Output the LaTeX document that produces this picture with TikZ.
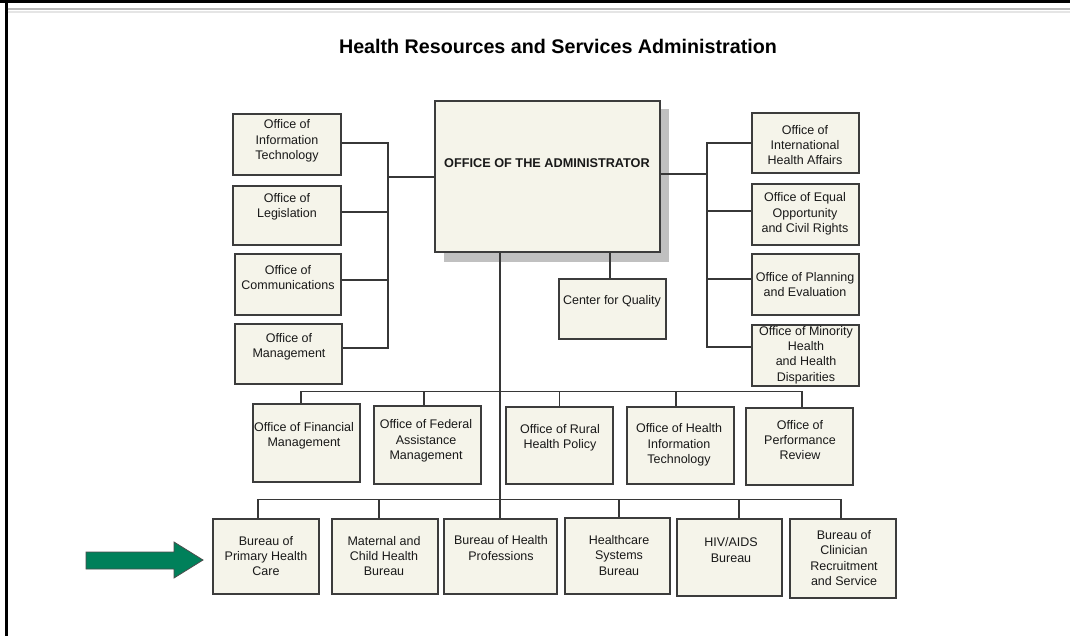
\documentclass[tikz,border=0pt]{standalone}
\usepackage{fontspec}
\setmainfont{Liberation Sans}
\definecolor{boxfill}{RGB}{245,244,234}
\definecolor{boxline}{RGB}{60,60,60}
\definecolor{conn}{RGB}{55,55,55}
\definecolor{shadowc}{RGB}{192,192,192}
\definecolor{arrowgreen}{RGB}{0,128,90}
\definecolor{txt}{RGB}{25,25,25}
\tikzset{
  unitbox/.style={draw=boxline, fill=boxfill, line width=1.2pt, rectangle, inner sep=0pt},
  label text/.style={align=center, inner sep=0pt, text=txt, font=\fontsize{12.5}{15.3}\selectfont},
  connector/.style={draw=conn, line width=1.4pt},
}
\begin{document}
\begin{tikzpicture}[x=1pt, y=-1pt]
\useasboundingbox (0,0) rectangle (1070,636);
\fill[white] (0,0) rectangle (1070,636);
% frame
\fill[black] (0,0) rectangle (1070,3);
\fill[black] (4.5,0) rectangle (7.5,636);
\draw[gray!55, line width=2pt] (7.5,9.5) -- (1070,9.5);
\draw[gray!20, line width=1.5pt] (7.5,12) -- (1070,12);

% title
\node[inner sep=0pt, font=\bfseries\fontsize{19.7}{23}\selectfont] (title) at (558,46) {Health Resources and Services Administration};

% administrator with shadow
\fill[shadowc] (444,109) rectangle (669,262);
\node[unitbox, minimum width=225pt, minimum height=151pt] (adm) at (547.5,176.5) {};
\node[inner sep=0pt, text=txt, font=\bfseries\fontsize{12.7}{15}\selectfont] (admT) at (547,163) {OFFICE OF THE ADMINISTRATOR};

% left column
\node[unitbox, minimum width=108pt, minimum height=61pt] (it) at (287,144.5) {};
\node[label text] (itT) at (287,141) {Office of\\Information\\Technology};
\node[unitbox, minimum width=108pt, minimum height=59pt] (leg) at (287,215.5) {};
\node[label text] (legT) at (287,207) {Office of\\Legislation};
\node[unitbox, minimum width=106pt, minimum height=61pt] (com) at (288,284.5) {};
\node[label text] (comT) at (288,277.5) {Office of\\Communications};
\node[unitbox, minimum width=107pt, minimum height=60pt] (mgt) at (288.5,354) {};
\node[label text] (mgtT) at (289,346.5) {Office of\\Management};

% right column
\node[unitbox, minimum width=107pt, minimum height=60pt] (iha) at (805.5,143) {};
\node[label text] (ihaT) at (805,145) {Office of\\International\\Health Affairs};
\node[unitbox, minimum width=107pt, minimum height=61pt] (eeo) at (805.5,214.5) {};
\node[label text] (eeoT) at (805,214) {Office of Equal\\Opportunity\\and Civil Rights};
\node[unitbox, minimum width=107pt, minimum height=61pt] (ope) at (805.5,284.5) {};
\node[label text] (opeT) at (805,284.5) {Office of Planning\\and Evaluation};
\node[unitbox, minimum width=107pt, minimum height=61pt] (omh) at (805.5,355.5) {};
\node[label text] (omhT) at (806,355) {Office of Minority\\Health\\and Health\\Disparities};

% center for quality
\node[unitbox, minimum width=107pt, minimum height=60pt] (cq) at (612.5,309) {};
\node[label text] (cqT) at (612,301) {Center for Quality};

% middle row
\node[unitbox, minimum width=107pt, minimum height=78pt] (fin) at (306.5,443) {};
\node[label text] (finT) at (304,436) {Office of Financial\\Management};
\node[unitbox, minimum width=107pt, minimum height=78pt] (fed) at (427.5,445) {};
\node[label text] (fedT) at (426,441) {Office of Federal\\Assistance\\Management};
\node[unitbox, minimum width=107pt, minimum height=77pt] (rur) at (559.5,445.5) {};
\node[label text] (rurT) at (560,438) {Office of Rural\\Health Policy};
\node[unitbox, minimum width=107pt, minimum height=77pt] (hit) at (680.5,445.5) {};
\node[label text] (hitT) at (679,445) {Office of Health\\Information\\Technology};
\node[unitbox, minimum width=107pt, minimum height=77pt] (perf) at (799.5,446.5) {};
\node[label text] (perfT) at (800,440) {Office of\\Performance\\Review};

% bottom row
\node[unitbox, minimum width=106pt, minimum height=75pt] (pri) at (266,556.5) {};
\node[label text] (priT) at (266,556) {Bureau of\\Primary Health\\Care};
\node[unitbox, minimum width=106pt, minimum height=75pt] (mat) at (385,556.5) {};
\node[label text] (matT) at (384,556) {Maternal and\\Child Health\\Bureau};
\node[unitbox, minimum width=113pt, minimum height=75pt] (bhp) at (500.5,556.5) {};
\node[label text] (bhpT) at (501,548) {Bureau of Health\\Professions};
\node[unitbox, minimum width=105pt, minimum height=76pt] (hsb) at (617.5,556) {};
\node[label text] (hsbT) at (619,555.5) {Healthcare\\Systems\\Bureau};
\node[unitbox, minimum width=105pt, minimum height=77pt] (hiv) at (729.5,557.5) {};
\node[label text] (hivT) at (731,550) {HIV/AIDS\\Bureau};
\node[unitbox, minimum width=106pt, minimum height=79pt] (clin) at (843,558.5) {};
\node[label text] (clinT) at (844,558) {Bureau of\\Clinician\\Recruitment\\and Service};

% connectors: left bracket
\coordinate (lbot) at (388,348);
\draw[connector] ([yshift=1.5pt]it.east) -| (lbot) -- ([yshift=6pt]mgt.east);
\draw[connector] ([yshift=3.5pt]leg.east) -- ++(47,0);
\draw[connector] ([yshift=4.5pt]com.east) -- ++(47,0);
\draw[connector] ([yshift=-0.5pt]adm.west) -- ([yshift=-0.5pt]adm.west -| lbot);

% connectors: right bracket
\coordinate (rbot) at (707,347);
\draw[connector] (iha.west) -| (rbot) -- ([yshift=8.5pt]omh.west);
\draw[connector] ([yshift=3.5pt]eeo.west) -- ++(-45,0);
\draw[connector] ([yshift=5.5pt]ope.west) -- ++(-45,0);
\draw[connector] ([yshift=2.5pt]adm.east) -- ++(47,0);

% center for quality
\draw[connector] ([xshift=-2.5pt]cq.north) -- ([xshift=-2.5pt]cq.north |- adm.south);

% trunk
\coordinate (trunk) at (500,500);
\draw[connector] (trunk |- adm.south) -- (trunk) -- (trunk |- bhp.north);

% middle bar
\draw[connector] ([xshift=-5.5pt]fin.north) -- ++(0,-12) -| ([xshift=2.5pt]perf.north);
\draw[connector] ([xshift=-3.5pt]fed.north) -- ++(0,-14);
\draw[connector] (rur.north) -- ++(0,-15);
\draw[connector] ([xshift=-4.5pt]hit.north) -- ++(0,-15);

% bottom bar
\draw[connector] ([xshift=-8pt]pri.north) -- ++(0,-19) -| ([xshift=-2pt]clin.north);
\draw[connector] ([xshift=-6pt]mat.north) -- ++(0,-19);
\draw[connector] ([xshift=1.5pt]hsb.north) -- ++(0,-18);
\draw[connector] ([xshift=9.5pt]hiv.north) -- ++(0,-19);

% green arrow
\coordinate (arrowtip) at (203,560);
\draw[fill=arrowgreen, draw=black!70, line width=0.8pt]
  (86,552) -- (174,552) -- (174,542) -- (arrowtip) -- (174,578) -- (174,569) -- (86,569) -- cycle;
\end{tikzpicture}
\end{document}
